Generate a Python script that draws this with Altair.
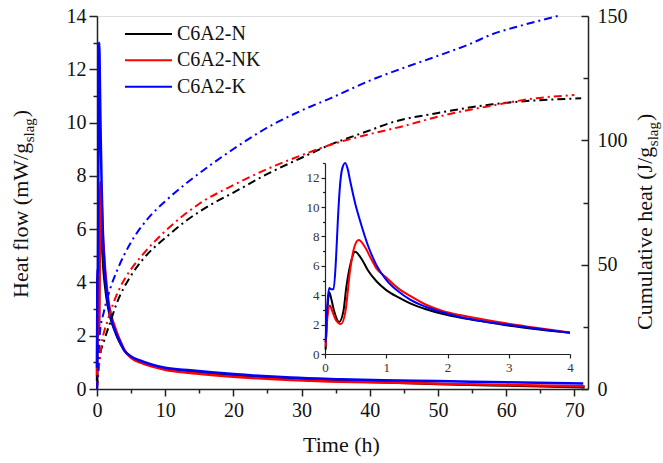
import altair as alt
import pandas as pd

FONT = "Liberation Serif"
SERIES = ["C6A2-N", "C6A2-NK", "C6A2-K"]
COLORS = ["#000000", "#ff0000", "#0000ff"]

# Heat flow (mW/g_slag) vs time (h)
T_N = [0.01, 0.04, 0.07, 0.1, 0.15, 0.23, 0.3, 0.35, 0.42, 0.49, 0.6, 0.7, 0.84, 1.0, 1.2, 1.39, 1.65,
       1.93, 2.2, 2.48, 3.02, 3.5, 4.0, 5, 6.3, 8, 10, 13.7, 20, 28.4, 35.7, 42, 50, 60, 71.5]
HF_N = [0.3, 3.0, 4.2, 3.8, 2.9, 2.18, 2.9, 4.6, 6.2, 6.96, 6.45, 5.7, 4.95, 4.35, 3.85, 3.45, 3.05,
        2.72, 2.48, 2.28, 1.92, 1.67, 1.45, 1.2, 1.02, 0.88, 0.75, 0.64, 0.5, 0.37, 0.3, 0.25, 0.19, 0.13, 0.07]

T_NK = [0.01, 0.04, 0.08, 0.12, 0.18, 0.26, 0.33, 0.41, 0.48, 0.55, 0.65, 0.75, 0.84, 1.0, 1.2, 1.39, 1.65,
        1.93, 2.2, 2.48, 3.02, 3.5, 4.0, 5, 6.3, 8, 10, 13.7, 20, 28.4, 35.7, 42, 50, 60, 71.5]
HF_NK = [0.5, 2.5, 3.3, 2.9, 2.3, 2.04, 2.8, 5.7, 7.3, 7.76, 7.3, 6.5, 5.83, 5.2, 4.45, 3.95, 3.35,
         2.92, 2.65, 2.43, 2.04, 1.75, 1.47, 1.17, 1.0, 0.85, 0.72, 0.6, 0.46, 0.34, 0.27, 0.24, 0.2, 0.15, 0.1]

T_K = [0.01, 0.04, 0.07, 0.1, 0.14, 0.18, 0.21, 0.24, 0.28, 0.33, 0.37, 0.41, 0.49, 0.57, 0.7, 0.84, 1.0,
       1.2, 1.39, 1.65, 1.93, 2.2, 2.48, 3.02, 3.5, 4.0, 5, 6.3, 8, 10, 13.7, 20, 28.4, 35.7, 42, 50, 60, 71.3]
HF_K = [0.8, 3.5, 4.5, 4.4, 4.4, 6.5, 9.1, 11.2, 12.6, 13.0, 12.6, 11.8, 10.3, 9.1, 7.4, 6.05, 5.05,
        4.25, 3.7, 3.2, 2.82, 2.52, 2.3, 1.97, 1.7, 1.45, 1.22, 1.07, 0.92, 0.8, 0.7, 0.56, 0.43, 0.37, 0.33, 0.3, 0.25, 0.21]

# Cumulative heat (J/g_slag) vs time (h)
CT_N = [0, 0.1, 0.4, 1, 1.9, 2.9, 4.9, 7, 10.2, 13, 16.6, 20, 25, 30, 34, 40, 43, 50, 58, 64, 71]
CH_N = [0, 5, 13, 19, 26.5, 34.5, 45.2, 53, 61.2, 67.5, 74, 79, 86.5, 93, 98, 104, 107, 111, 114.5, 116, 116.9]

CT_NK = [0, 0.2, 0.7, 1.5, 2.4, 3.5, 4.9, 7, 10.2, 15, 20, 25, 30, 34, 40, 44.6, 50, 58, 64, 70]
CH_NK = [0, 6.4, 18.4, 27, 34.5, 41.5, 47.8, 55, 64, 74.5, 82, 88.5, 94, 98, 102.5, 105.5, 109.5, 114, 116.8, 118.2]

CT_K = [0, 0.1, 0.44, 1, 1.9, 3, 4.9, 7.3, 10.2, 13, 16.6, 20, 24.9, 30, 34.3, 40, 44.1, 50, 54.9, 57.8, 62, 67.6]
CH_K = [0, 6, 23, 31, 40, 48, 58.6, 68, 76, 82.5, 90, 96.5, 105, 112, 117, 124, 128.3, 134, 139, 142.5, 146, 150]


def long(ts, vs, name, col):
    return pd.DataFrame({"t": ts, col: vs, "series": name})


hf_df = pd.concat([long(T_N, HF_N, SERIES[0], "v"), long(T_NK, HF_NK, SERIES[1], "v"),
                   long(T_K, HF_K, SERIES[2], "v")], ignore_index=True)
cum_df = pd.concat([long(CT_N, CH_N, SERIES[0], "c"), long(CT_NK, CH_NK, SERIES[1], "c"),
                    long(CT_K, CH_K, SERIES[2], "c")], ignore_index=True)

W, H = 491, 373
color = alt.Color("series:N", scale=alt.Scale(domain=SERIES, range=COLORS), legend=None)

axis_common = dict(labelFont=FONT, labelColor="#111111", domainColor="#222222", tickColor="#222222",
                   domainWidth=1.5, tickWidth=1.5, grid=False, title=None, labelFlush=False,
                   labelOverlap=False)

main_hf = alt.Chart(hf_df).mark_line(strokeWidth=2.5, interpolate="monotone").encode(
    x=alt.X("t:Q", scale=alt.Scale(domain=[0, 72], nice=False, zero=False),
            axis=alt.Axis(values=list(range(0, 71, 5)), format="d",
                          labelExpr="datum.value % 10 === 0 ? datum.label : ''",
                          tickSize={"condition": {"test": "datum.value % 10 !== 0", "value": 4}, "value": 7},
                          labelFontSize=20, labelPadding=4, **axis_common)),
    y=alt.Y("v:Q", scale=alt.Scale(domain=[0, 14], nice=False),
            axis=alt.Axis(orient="left", values=list(range(0, 15)), format="d",
                          labelExpr="datum.value % 2 === 0 ? datum.label : ''",
                          tickSize={"condition": {"test": "datum.value % 2 !== 0", "value": 4}, "value": 8},
                          labelFontSize=20, labelPadding=3, **axis_common)),
    color=color,
)

cum = alt.Chart(cum_df).mark_line(strokeWidth=2, strokeDash=[8, 4, 2, 4], interpolate="monotone").encode(
    x=alt.X("t:Q", scale=alt.Scale(domain=[0, 72], nice=False, zero=False), axis=None),
    y=alt.Y("c:Q", scale=alt.Scale(domain=[0, 150], nice=False),
            axis=alt.Axis(orient="right", values=list(range(0, 151, 25)), format="d",
                          labelExpr="datum.value % 50 === 0 ? datum.label : ''",
                          tickSize={"condition": {"test": "datum.value % 50 !== 0", "value": -5}, "value": -7},
                          labelFontSize=20, labelPadding=16, **axis_common)),
    color=color,
)

IX0, IX1 = 228, 473
IY0, IY1 = 338, 147
inset_axis = {**axis_common, "domainWidth": 1.2, "tickWidth": 1.2, "labelColor": "#333333"}
inset = alt.Chart(hf_df).transform_filter("datum.t <= 4").mark_line(
    strokeWidth=2, interpolate="monotone").encode(
    x=alt.X("t:Q", scale=alt.Scale(domain=[0, 4], range=[IX0, IX1], nice=False, zero=False),
            axis=alt.Axis(orient="bottom", offset=-(H - IY0), values=[i * 0.5 for i in range(9)],
                          format="d",
                          labelExpr="datum.value % 1 === 0 ? datum.label : ''",
                          tickSize={"condition": {"test": "datum.value % 1 !== 0", "value": 2.5}, "value": 4},
                          labelFontSize=13, labelPadding=3, **inset_axis)),
    y=alt.Y("v:Q", scale=alt.Scale(domain=[0, 13], range=[IY0, IY1], nice=False),
            axis=alt.Axis(orient="left", offset=-IX0, values=list(range(0, 14)), format="d",
                          labelExpr="datum.value % 2 === 0 ? datum.label : ''",
                          tickSize={"condition": {"test": "datum.value % 2 !== 0", "value": 2.5}, "value": 4},
                          labelFontSize=13, labelPadding=2, **inset_axis)),
    color=color,
)

leg_df = pd.DataFrame({"series": SERIES, "row": [0, 1, 2]})
leg_y = alt.Y("row:Q", scale=alt.Scale(domain=[0, 2], range=[18, 70.7]), axis=None)
leg_rule = alt.Chart(leg_df).mark_rule(strokeWidth=2).encode(
    x=alt.value(28), x2=alt.value(75), y=leg_y, color=color)
leg_text = alt.Chart(leg_df).mark_text(align="left", baseline="middle", font=FONT, fontSize=20,
                                       color="#111111").encode(
    x=alt.value(80), y=leg_y, text="series:N")

# Times-metric character widths (per 1000 em) for placing subscripted titles
CW = {"H": 722, "e": 444, "a": 444, "t": 278, " ": 250, "f": 333, "l": 278, "o": 500, "w": 722,
      "(": 333, "m": 778, "W": 944, "/": 278, "g": 500, "s": 389, ")": 333, "C": 667, "u": 500,
      "i": 278, "v": 500, "J": 389, "h": 500}


def tw(s, fs):
    return sum(CW.get(c, 500) for c in s) * fs / 1000.0


one = pd.DataFrame({"a": [0]})
FS, SFS = 22, 15


def txt_mark(txt, fs, x, y, angle=None, align="left"):
    kw = dict(font=FONT, fontSize=fs, align=align, baseline="alphabetic", color="#111111",
              fontWeight="normal")
    if angle is not None:
        kw["angle"] = angle
    return alt.Chart(one).mark_text(**kw).encode(x=alt.value(x), y=alt.value(y), text=alt.value(txt))


def vtitle(main, bx, by):
    w1 = tw(main, FS)
    w2 = tw("slag", SFS)
    return [
        txt_mark(main, FS, bx, by, 270),
        txt_mark("slag", SFS, bx + 6, by - w1 - 0.5, 270),
        txt_mark(")", FS, bx, by - w1 - w2 - 1.5, 270),
    ]


left_title = vtitle("Heat flow (mW/g", -69, 282)
right_title = vtitle("Cumulative heat (J/g", 555, 314)
x_title = txt_mark("Time (h)", FS, 244.5, 436, None, "center")

chart = alt.layer(main_hf, cum, inset, leg_rule, leg_text, *left_title, *right_title, x_title).resolve_scale(
    x="independent", y="independent"
).resolve_axis(x="independent", y="independent").properties(
    width=W, height=H,
    autosize=alt.AutoSizeParams(type="none"),
    padding={"left": 97, "top": 16, "right": 75, "bottom": 74},
).configure_view(stroke=None).configure(background="white")

chart.save("out.html", embed_options={"renderer": "svg", "actions": False})
